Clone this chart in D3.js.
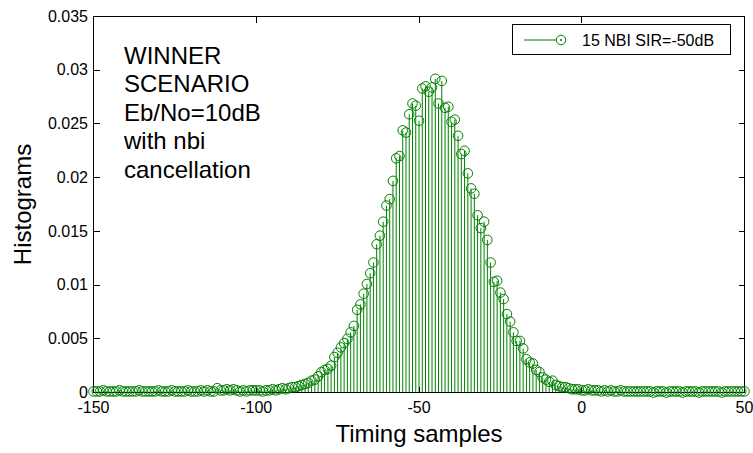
<!DOCTYPE html>
<html>
<head>
<meta charset="utf-8">
<script src="https://cdn.jsdelivr.net/npm/d3@7"></script>
<style>
  body { margin: 0; background: #fff; }
  svg { display: block; font-family: "Liberation Sans", Arial, sans-serif; }
</style>
</head>
<body>
<div id="chart-target"></div>
<script>
// histogram values, one per timing sample, starting at sampleStart
var sampleStart = -150;
var histValues = [
  // -150 .. -101
  0.0001,0.0001,0.0001,0.0002,0.0001,0.0001,0.0001,0.0001,0.0002,0.0001,
  0.0001,0.0001,0.0001,0.0001,0.0002,0.0001,0.0001,0.0001,0.0001,0.0001,
  0.0002,0.0001,0.0001,0.0001,0.0002,0.0001,0.0001,0.0001,0.0001,0.0002,
  0.0001,0.0001,0.0001,0.0002,0.0001,0.0002,0.0001,0.0001,0.0004,0.0002,
  0.0002,0.0003,0.0002,0.0003,0.0002,0.0001,0.0002,0.0001,0.0002,0.0002,
  // -100 .. -51
  0.0002,0.0002,0.0001,0.0002,0.0002,0.0003,0.0002,0.0003,0.0004,0.0003,
  0.0004,0.0005,0.0005,0.0006,0.0007,0.0008,0.0009,0.0011,0.0012,0.0015,
  0.0019,0.0021,0.0022,0.0025,0.0033,0.0037,0.0042,0.0046,0.0050,0.0056,
  0.0062,0.0077,0.0082,0.0092,0.0101,0.0111,0.0121,0.0138,0.0146,0.0159,
  0.0174,0.0180,0.0197,0.0218,0.0220,0.0244,0.0242,0.0259,0.0269,0.0267,
  // -50 .. -1
  0.0253,0.0283,0.0285,0.0280,0.0284,0.0292,0.0269,0.0290,0.0265,0.0266,
  0.0252,0.0254,0.0239,0.0222,0.0225,0.0204,0.0190,0.0185,0.0165,0.0153,
  0.0159,0.0142,0.0121,0.0103,0.0104,0.0093,0.0087,0.0073,0.0066,0.0056,
  0.0048,0.0048,0.0041,0.0031,0.0028,0.0027,0.0021,0.0019,0.0014,0.0012,
  0.0010,0.0011,0.0007,0.0006,0.0005,0.0005,0.0004,0.0003,0.0003,0.0003,
  // 0 .. 50
  0.0002,0.0002,0.0003,0.0002,0.0002,0.0002,0.0001,0.0002,0.0001,0.0002,
  0.0001,0.0001,0.0002,0.0001,0.0001,0.0001,0.0001,0.0001,0.0001,0.0001,
  0.0001,0.0001,0.0000,0.0001,0.0001,0.0001,0.0000,0.0001,0.0001,0.0001,
  0.0001,0.0000,0.0001,0.0001,0.0001,0.0001,0.0000,0.0001,0.0001,0.0001,
  0.0001,0.0001,0.0001,0.0000,0.0001,0.0001,0.0001,0.0001,0.0001,0.0001,
  0.0001
];

var xTicks = [-150, -100, -50, 0, 50];
var yTicks = [0, 0.005, 0.01, 0.015, 0.02, 0.025, 0.03, 0.035];
var yTickLabels = ['0', '0.005', '0.01', '0.015', '0.02', '0.025', '0.03', '0.035'];
var noteLines = ['WINNER', 'SCENARIO', 'Eb/No=10dB', 'with nbi', 'cancellation'];
var legendLabel = '15 NBI SIR=-50dB';

var width = 753, height = 453;
var plot = { left: 93.5, right: 744.5, top: 16.5, bottom: 392.5 };
var green = '#008000';
var markerR = 4.8;

var svg = d3.select('#chart-target').append('svg')
    .attr('width', width)
    .attr('height', height);

var x = d3.scaleLinear().domain([-150, 50]).range([plot.left, plot.right]);
var y = d3.scaleLinear().domain([0, 0.035]).range([plot.bottom, plot.top]);

var points = histValues.map((v, i) => { return { s: sampleStart + i, v: v } });

// stems
svg.append('g').selectAll('line')
    .data(points)
  .enter().append('line')
    .attr('x1', (d) => x(d.s))
    .attr('x2', (d) => x(d.s))
    .attr('y1', y(0))
    .attr('y2', (d) => y(d.v))
    .attr('stroke', green)
    .attr('stroke-width', 1);

// axes box and ticks (inside, on all four sides like matlab)
var axes = svg.append('g').attr('stroke', '#000').attr('stroke-width', 1).attr('shape-rendering', 'crispEdges');
axes.append('rect')
    .attr('x', plot.left).attr('y', plot.top)
    .attr('width', plot.right - plot.left).attr('height', plot.bottom - plot.top)
    .attr('fill', 'none');

var tl = 6;
xTicks.forEach((t) => {
  axes.append('line').attr('x1', x(t)).attr('x2', x(t)).attr('y1', plot.bottom).attr('y2', plot.bottom - tl);
  axes.append('line').attr('x1', x(t)).attr('x2', x(t)).attr('y1', plot.top).attr('y2', plot.top + tl);
});
yTicks.forEach((t) => {
  axes.append('line').attr('x1', plot.left).attr('x2', plot.left + tl).attr('y1', y(t)).attr('y2', y(t));
  axes.append('line').attr('x1', plot.right).attr('x2', plot.right - tl).attr('y1', y(t)).attr('y2', y(t));
});

// markers on top
svg.append('g').selectAll('circle')
    .data(points)
  .enter().append('circle')
    .attr('cx', (d) => x(d.s))
    .attr('cy', (d) => y(d.v))
    .attr('r', markerR)
    .attr('fill', 'none')
    .attr('stroke', green)
    .attr('stroke-width', 1);

// tick labels
svg.append('g').selectAll('text')
    .data(xTicks)
  .enter().append('text')
    .attr('x', (d) => x(d))
    .attr('y', 413)
    .attr('text-anchor', 'middle')
    .attr('font-size', 16)
    .text((d) => d);

svg.append('g').selectAll('text')
    .data(yTicks)
  .enter().append('text')
    .attr('x', 88)
    .attr('y', (d) => y(d))
    .attr('dy', '0.33em')
    .attr('text-anchor', 'end')
    .attr('font-size', 16)
    .text((d, i) => yTickLabels[i]);

// axis labels
svg.append('text')
    .attr('x', (plot.left + plot.right) / 2)
    .attr('y', 442)
    .attr('text-anchor', 'middle')
    .attr('font-size', 24)
    .text('Timing samples');

svg.append('text')
    .attr('transform', 'translate(31,' + ((plot.top + plot.bottom) / 2) + ') rotate(-90)')
    .attr('text-anchor', 'middle')
    .attr('font-size', 24)
    .text('Histograms');

// annotation inside the axes
svg.append('g').selectAll('text')
    .data(noteLines)
  .enter().append('text')
    .attr('x', 124)
    .attr('y', (d, i) => 63.5 + i * 28.6)
    .attr('font-size', 24)
    .text((d) => d);

// legend
var legend = svg.append('g');
legend.append('rect')
    .attr('x', 512.5).attr('y', 24.5)
    .attr('width', 218).attr('height', 30)
    .attr('fill', '#fff')
    .attr('stroke', '#000')
    .attr('shape-rendering', 'crispEdges');
legend.append('line')
    .attr('x1', 524).attr('x2', 556)
    .attr('y1', 40).attr('y2', 40)
    .attr('stroke', green);
legend.append('circle')
    .attr('cx', 561).attr('cy', 40).attr('r', markerR)
    .attr('fill', 'none').attr('stroke', green);
legend.append('circle')
    .attr('cx', 561).attr('cy', 40).attr('r', 1)
    .attr('fill', green);
legend.append('text')
    .attr('x', 582)
    .attr('y', 45.5)
    .attr('font-size', 16)
    .text(legendLabel);
</script>
</body>
</html>
